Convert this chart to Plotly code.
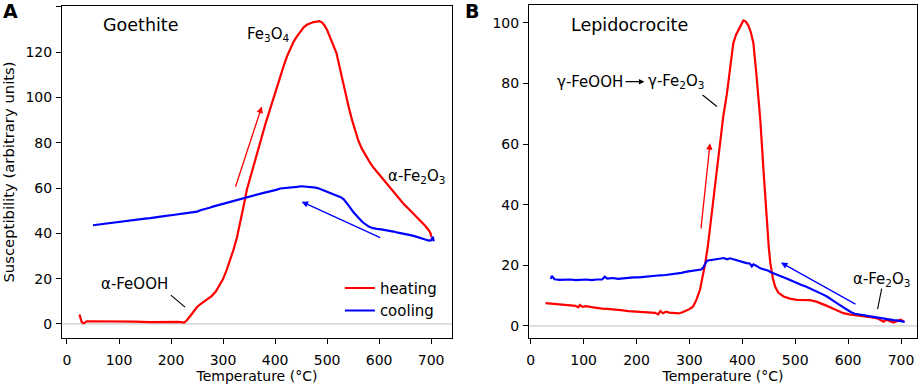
import plotly.graph_objects as go

# ---------------- Panel A: Goethite ----------------
heatA_T = [24, 26, 28, 31, 34, 38, 50, 70, 100, 130, 160, 190, 215, 225, 230, 237, 243, 250, 256, 262,
           270, 278, 286, 293, 300, 307, 314, 320, 327, 333, 339, 346, 353, 360, 366, 374, 381, 388,
           395, 403, 410, 417, 423, 430, 436, 442, 449, 455, 461, 468, 474, 480, 485, 490, 495, 500,
           506, 512, 518, 524, 530, 536, 542, 548, 554, 560, 567, 575, 583, 591, 600, 608, 616, 624,
           632, 640, 648, 656, 664, 672, 680, 688, 695, 699, 700]
heatA_K = [4.2, 2.5, 1.0, 0.3, 0.5, 1.2, 1.2, 1.0, 1.0, 1.0, 0.8, 0.9, 0.9, 0.6, 1.5, 3.5, 5.5, 7.5, 8.6, 9.6,
           10.8, 12.3, 14.3, 16.8, 19.8, 23.9, 28.3, 32.7, 38.5, 44.5, 51.5, 59.5, 65.5, 71.5, 76.2, 82.3, 88.0, 93.2,
           98.5, 104.8, 109.5, 114.3, 118.2, 122.0, 124.8, 127.0, 129.3, 131.0, 132.1, 132.9, 133.3, 133.5, 133.7, 133.2, 131.8, 129.8,
           126.5, 123.0, 119.6, 113.5, 107.0, 100.8, 95.3, 90.0, 85.0, 81.0, 77.3, 74.0, 71.0, 68.5, 66.0, 63.6, 61.2, 59.2,
           57.0, 54.8, 52.8, 51.0, 49.2, 47.4, 45.5, 43.5, 41.5, 40.0, 38.5]

coolA_T = [705, 703, 700, 695, 690, 683, 676, 668, 660, 652, 644, 636, 628, 620, 612, 604, 596, 588, 580, 574,
           568, 562, 556, 550, 544, 538, 532, 526, 520, 514, 506, 498, 490, 482, 474, 466, 458, 450, 442, 434,
           426, 418, 410, 402, 394, 386, 378, 370, 362, 354, 346, 338, 330, 322, 314, 306, 298, 290, 282, 274,
           266, 258, 250, 242, 234, 226, 218, 210, 200, 190, 180, 170, 160, 150, 140, 130, 120, 110, 100, 90,
           80, 70, 60, 50]
coolA_K = [36.5, 38.5, 37.0, 36.8, 37.2, 37.8, 38.2, 38.8, 39.2, 39.5, 40.0, 40.3, 40.8, 41.2, 41.5, 41.8, 42.0, 42.3, 43.0, 44.0,
           45.0, 46.5, 48.0, 49.5, 51.5, 53.5, 55.0, 56.0, 56.5, 57.0, 57.8, 58.5, 59.3, 60.0, 60.3, 60.5, 60.6, 60.8, 60.5, 60.3,
           60.4, 60.0, 59.8, 59.2, 58.6, 58.3, 57.9, 57.4, 57.0, 56.7, 56.2, 55.6, 55.2, 54.7, 54.1, 53.5, 53.0, 52.5, 51.9, 51.3,
           50.9, 50.3, 49.6, 49.3, 49.1, 49.0, 48.6, 48.3, 48.0, 47.7, 47.3, 47.0, 46.7, 46.5, 46.2, 45.8, 45.5, 45.3, 45.0, 44.7,
           44.5, 44.2, 43.9, 43.6]

# ---------------- Panel B: Lepidocrocite ----------------
heatB_T = [28, 35, 45, 55, 65, 75, 85, 90, 93, 98, 105, 115, 125, 135, 145, 155, 165, 175, 185, 195,
           205, 215, 225, 235, 241, 245, 250, 256, 262, 270, 280, 287, 295, 301, 307, 313, 320, 325, 330, 335,
           339, 344, 349, 353, 358, 364, 371, 377, 383, 388, 393, 398, 402, 406, 411, 416, 421, 427, 434, 440,
           446, 450, 453, 458, 462, 468, 478, 490, 503, 515, 528, 540, 550, 560, 570, 580, 591, 602, 612, 623,
           635, 645, 655, 662, 667, 672, 678, 686, 692, 699, 705]
heatB_K = [7.5, 7.4, 7.3, 7.1, 7.0, 6.8, 6.6, 6.1, 6.9, 6.3, 6.5, 6.2, 5.9, 5.7, 5.6, 5.5, 5.3, 5.1, 4.9, 4.8,
           4.7, 4.6, 4.5, 4.3, 3.8, 4.9, 4.2, 4.7, 4.4, 4.3, 4.1, 4.5, 5.0, 5.6, 6.4, 8.5, 11.9, 16.0, 20.7, 26.5,
           32.8, 40.0, 47.1, 53.0, 60.3, 69.1, 76.8, 84.5, 93.3, 96.0, 97.7, 99.8, 100.8, 100.5, 99.3, 97.0, 93.3, 82.3, 68.0, 51.5,
           35.0, 26.0, 20.7, 15.5, 13.0, 11.0, 9.7, 9.0, 8.6, 8.6, 8.5, 8.0, 7.4, 6.6, 5.8, 5.0, 4.2, 3.8, 3.6, 3.3,
           3.2, 2.8, 2.5, 2.0, 1.4, 2.0, 1.6, 1.1, 1.5, 2.0, 1.5]

coolB_T = [707, 700, 692, 686, 678, 670, 661, 652, 644, 636, 628, 620, 612, 605, 598, 591, 583, 575, 567, 560,
           552, 544, 536, 528, 520, 512, 503, 495, 487, 479, 471, 463, 455, 448, 441, 434, 427, 421, 418, 414,
           408, 401, 395, 389, 383, 377, 371, 365, 358, 350, 343, 337, 333, 330, 326, 322, 317, 310, 302, 295,
           285, 275, 265, 255, 245, 235, 225, 215, 205, 195, 185, 175, 165, 155, 145, 140, 135, 125, 115, 105,
           95, 85, 75, 65, 55, 45, 40, 38]
coolB_K = [1.3, 1.6, 1.8, 1.9, 2.1, 2.3, 2.5, 2.8, 3.0, 3.3, 3.6, 3.8, 4.0, 4.6, 5.3, 6.0, 7.0, 7.9, 8.9, 9.7,
           10.4, 11.1, 11.8, 12.4, 13.0, 13.5, 14.1, 14.8, 15.4, 16.0, 16.5, 17.0, 17.6, 18.3, 18.6, 19.0, 19.8, 20.3, 19.6, 20.6,
           20.7, 21.0, 21.3, 21.6, 22.0, 22.3, 22.0, 22.4, 22.2, 22.0, 22.0, 21.8, 21.5, 20.5, 19.2, 18.6, 18.5, 18.2, 18.0, 17.9,
           17.5, 17.2, 17.0, 16.8, 16.7, 16.5, 16.4, 16.2, 16.0, 16.0, 15.9, 15.7, 15.5, 15.8, 15.6, 16.2, 15.3, 15.3, 15.1, 15.3,
           15.2, 15.1, 15.3, 15.2, 15.2, 15.4, 16.5, 15.5]

x_ticks = [0, 100, 200, 300, 400, 500, 600, 700]
yA_ticks = [0, 20, 40, 60, 80, 100, 120, 140]
yB_ticks = [0, 20, 40, 60, 80, 100]

RED = "#ff0000"
BLUE = "#0000ff"
FONT = "DejaVu Sans"

fig = go.Figure()
fig.add_trace(go.Scatter(x=heatA_T, y=heatA_K, mode="lines", name="heating",
                         line=dict(color=RED, width=2.2), xaxis="x", yaxis="y"))
fig.add_trace(go.Scatter(x=coolA_T, y=coolA_K, mode="lines", name="cooling",
                         line=dict(color=BLUE, width=2.2), xaxis="x", yaxis="y"))
fig.add_trace(go.Scatter(x=heatB_T, y=heatB_K, mode="lines", name="heating", showlegend=False,
                         line=dict(color=RED, width=2.2), xaxis="x2", yaxis="y2"))
fig.add_trace(go.Scatter(x=coolB_T, y=coolB_K, mode="lines", name="cooling", showlegend=False,
                         line=dict(color=BLUE, width=2.2), xaxis="x2", yaxis="y2"))

axis_common = dict(showgrid=False, zeroline=False, showline=True, linecolor="black", linewidth=1.1,
                   mirror=True, ticks="outside", ticklen=5, tickwidth=1.1, tickcolor="black",
                   tickfont=dict(family=FONT, size=14, color="black"), automargin=False)

fig.update_layout(
    width=920, height=387,
    margin=dict(l=62, r=3, t=5, b=49),
    paper_bgcolor="white", plot_bgcolor="white",
    font=dict(family=FONT, size=14, color="black"),
    xaxis=dict(domain=[0, 0.4561], range=[-9.6, 740], tickvals=x_ticks, ticklabelstandoff=4,
               title=dict(text="Temperature (°C)", font=dict(size=14), standoff=4), **axis_common),
    yaxis=dict(domain=[0, 0.997], range=[-6.2, 140.4], tickvals=yA_ticks, anchor="x", ticklabelstandoff=1,
               title=dict(text="Susceptibility (arbitrary units)", font=dict(size=14.8), standoff=7), **axis_common),
    xaxis2=dict(domain=[0.5462, 1.0], range=[-3.2, 730.2], tickvals=x_ticks, anchor="y2", ticklabelstandoff=4,
                title=dict(text="Temperature (°C)", font=dict(size=14), standoff=4), **axis_common),
    yaxis2=dict(domain=[0, 1.0], range=[-4.0, 105.9], tickvals=yB_ticks, anchor="x2", ticklabelstandoff=1,
                **axis_common),
    showlegend=True,
    legend=dict(x=0.325, y=0.199, xanchor="left", yanchor="top", bgcolor="rgba(0,0,0,0)",
                font=dict(family=FONT, size=15, color="black"), borderwidth=0, tracegroupgap=0),
)

# zero reference lines
for xr, yr in [("x domain", "y"), ("x2 domain", "y2")]:
    fig.add_shape(type="line", xref=xr, yref=yr, x0=0, x1=1, y0=0, y1=0,
                  line=dict(color="#cccccc", width=1.2), layer="below")

ann = []
def text(x, y, s, xr, yr, size=15, xanchor="center"):
    ann.append(dict(x=x, y=y, xref=xr, yref=yr, text=s, showarrow=False, xanchor=xanchor,
                    yanchor="middle", font=dict(family=FONT, size=size, color="black")))

def arrow(x0, y0, x1, y1, xr, yr, color, head=2, width=1.3):
    ann.append(dict(x=x1, y=y1, ax=x0, ay=y0, xref=xr, yref=yr, axref=xr, ayref=yr, text="",
                    showarrow=True, arrowhead=head, arrowsize=1, arrowwidth=width, arrowcolor=color,
                    standoff=0, startstandoff=0, font=dict(family=FONT, size=15, color="black")))

# Panel A annotations
text(142, 132, "Goethite", "x", "y", size=17.5)
text(387, 127.7, "Fe<sub>3</sub>O<sub>4</sub>", "x", "y")
text(672, 65, "α-Fe<sub>2</sub>O<sub>3</sub>", "x", "y")
text(129.5, 17.5, "α-FeOOH", "x", "y")
arrow(196.7, 13.3, 227, 7.4, "x", "y", "black", head=0, width=1.1)
arrow(323, 59.9, 374.4, 96, "x", "y", RED)
arrow(605, 37.8, 451, 54, "x", "y", BLUE)

# Panel B annotations
text(187, 99.3, "Lepidocrocite", "x2", "y2", size=17.5)
text(111.6, 80.6, "γ-FeOOH", "x2", "y2")
arrow(176.5, 80.6, 215, 80.6, "x2", "y2", "black", head=2, width=1.1)
text(275.7, 80.6, "γ-Fe<sub>2</sub>O<sub>3</sub>", "x2", "y2")
arrow(322, 76.6, 352, 72.4, "x2", "y2", "black", head=0, width=1.1)
arrow(321.6, 31.7, 339, 60.3, "x2", "y2", RED)
arrow(616.7, 6.9, 473, 20.9, "x2", "y2", BLUE)
text(664, 15.2, "α-Fe<sub>2</sub>O<sub>3</sub>", "x2", "y2")
arrow(664, 12.8, 655.7, 5.5, "x2", "y2", "black", head=0, width=1.1)

# panel letters (given in page pixels, converted to paper coordinates)
pw, ph = 920 - 62 - 3, 387 - 5 - 49
for s, px, py in [("A", 1, 11), ("B", 463, 11)]:
    ann.append(dict(x=(px - 62) / pw, y=(387 - 49 - py) / ph, xref="paper", yref="paper",
                    text="<b>%s</b>" % s, showarrow=False, xanchor="left", yanchor="middle",
                    font=dict(family=FONT, size=19, color="black")))

fig.update_layout(annotations=ann)
fig.write_html("out.html", config={"displayModeBar": False},
               post_script="document.body.style.margin='0';")
